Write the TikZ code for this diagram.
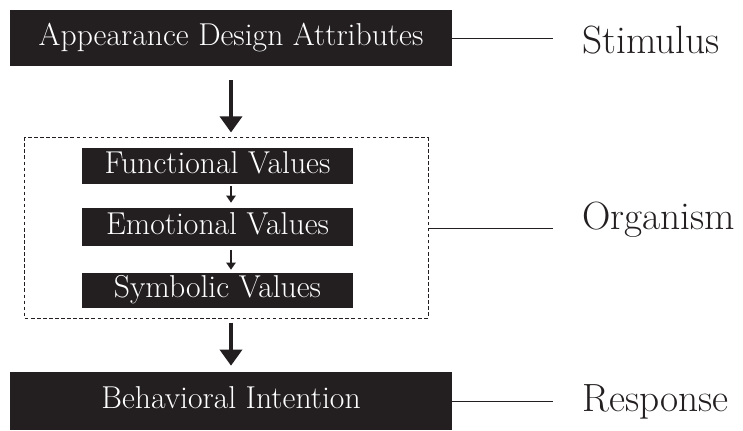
\documentclass[tikz,border=0pt]{standalone}
\usepackage{xcolor}
\usetikzlibrary{arrows.meta}
\definecolor{boxblack}{HTML}{231F20}

\begin{document}
\begin{tikzpicture}[x=0.025cm, y=-0.025cm,
    darkbox/.style={fill=boxblack, text=white, inner sep=0pt, text height=15.5pt, text depth=5pt, font=\fontsize{22.5}{27}\selectfont},
    stagename/.style={anchor=west, inner sep=0pt, text=boxblack, font=\fontsize{28}{33}\selectfont},
    bigarrow/.style={-{Triangle[width=15.6pt,length=11.5pt]}, line width=3.5pt, draw=boxblack},
    smallarrow/.style={-{Triangle[width=6.5pt,length=5pt]}, line width=1.4pt, draw=boxblack},
    stageline/.style={line width=0.7pt, draw=boxblack, shorten >=0.725cm}]
    \useasboundingbox (0,0) rectangle (743,431);

    % Stimulus
    \node[darkbox, minimum width=11.05cm, minimum height=1.4cm] (attr) at (231,38) {Appearance Design Attributes};

    % Organism
    \node[draw=boxblack, line width=0.7pt, dash pattern=on 2.5pt off 1.8pt, minimum width=10.075cm, minimum height=4.5cm] (org) at (226.5,228) {};
    \node[darkbox, minimum width=6.775cm, minimum height=0.9cm] (func) at (217.5,166) {Functional Values};
    \node[darkbox, minimum width=6.775cm, minimum height=0.95cm] (emo) at (217.5,227) {Emotional Values};
    \node[darkbox, minimum width=6.775cm, minimum height=0.875cm] (sym) at (217.5,290.5) {Symbolic Values};

    % Response
    \node[darkbox, minimum width=11.05cm, minimum height=1.45cm] (intent) at (231,401) {Behavioral Intention};

    % Flow
    \draw[bigarrow, shorten <=0.35cm, shorten >=0.125cm] (attr.south) -- (attr.south |- org.north);
    \draw[smallarrow, shorten <=0.05cm, shorten >=0.125cm] (func.south -| attr.south) -- (emo.north -| attr.south);
    \draw[smallarrow, shorten <=0.1cm, shorten >=0.075cm] (emo.south -| attr.south) -- (sym.north -| attr.south);
    \draw[bigarrow, shorten <=0.1cm, shorten >=0.15cm] (attr.south |- org.south) -- (intent.north);

    % Stage names
    \node[stagename] (stim) at (582,40) {Stimulus};
    \node[stagename] (organism) at (582,220) {Organism};
    \node[stagename] (resp) at (582,402) {Response};
    \draw[stageline] (attr.east) -- (attr.east -| stim.west);
    \draw[stageline] (org.east) -- (org.east -| organism.west);
    \draw[stageline] (intent.east) -- (intent.east -| resp.west);
\end{tikzpicture}
\end{document}
